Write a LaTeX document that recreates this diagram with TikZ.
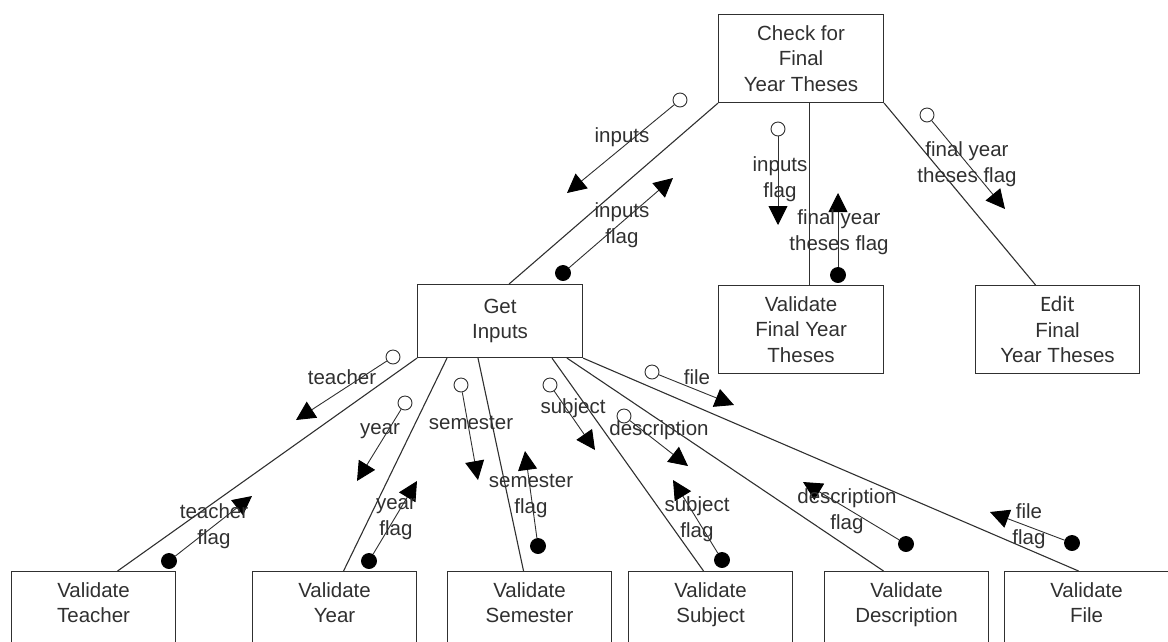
\documentclass[tikz,border=0pt]{standalone}
\usepackage{fontspec}
\setmainfont{Liberation Sans}
\newfontfamily\edfont{Carlito}
\usetikzlibrary{arrows.meta,calc}
\definecolor{ink}{HTML}{303030}
\begin{document}
\begin{tikzpicture}[x=1pt,y=-1pt,
  txt/.style={font=\fontsize{20.5}{25.5}\selectfont, text=ink},
  box/.style={txt, draw=ink, line width=1.1pt, rectangle, inner sep=0pt, align=center, anchor=north west},
  bigbox/.style={box, minimum width=165pt, minimum height=88pt},
  lowbox/.style={box, minimum width=164pt, minimum height=88pt},
  lbl/.style={txt, align=center, inner sep=0pt},
  dc/.style={circle, draw=ink, fill=white, minimum size=14pt, inner sep=0pt, line width=0.9pt},
  cf/.style={circle, draw=black, fill=black, minimum size=15pt, inner sep=0pt, line width=0.9pt},
  flow/.style={draw=ink, line width=0.9pt, -{Triangle[length=19pt,width=19pt,color=black]}},
  conn/.style={draw=ink, line width=1.1pt}]
\useasboundingbox (0,0) rectangle (1168,641);
\clip (0,0) rectangle (1168,641);
% boxes
\node[bigbox] (chk) at (718,14) {Check for\\Final\\Year Theses};
\node[box, minimum width=165pt, minimum height=73pt] (gi) at (417,284) {Get\\Inputs};
\node[bigbox] (vfy) at (718,285) {Validate\\Final Year\\Theses};
\node[box, minimum width=164pt, minimum height=88pt] (edt) at (975,285) {{\edfont\fontsize{22}{25.5}\selectfont Edit}\\Final\\Year Theses};
\node[lowbox] (vt) at (11,571) {Validate\\Teacher\\~};
\node[lowbox] (vy) at (252,571) {Validate\\Year\\~};
\node[lowbox] (vs) at (447,571) {Validate\\Semester\\~};
\node[lowbox] (vsub) at (628,571) {Validate\\Subject\\~};
\node[lowbox] (vd) at (824,571) {Validate\\Description\\~};
\node[lowbox] (vf) at (1004,571) {Validate\\File\\~};
% structure lines
\draw[conn] (chk.south west) -- ([xshift=9pt]gi.north);
\draw[conn] ([xshift=8.5pt]chk.south) -- ([xshift=8.5pt]vfy.north);
\draw[conn] (chk.south east) -- ([xshift=-22pt]edt.north);
\draw[conn] (gi.south west) -- ([xshift=24pt]vt.north);
\draw[conn] ([xshift=30pt]gi.south west) -- ([xshift=9pt]vy.north);
\draw[conn] ([xshift=61pt]gi.south west) -- ([xshift=-6pt]vs.north);
\draw[conn] ([xshift=135pt]gi.south west) -- ([xshift=-7pt]vsub.north);
\draw[conn] ([xshift=150pt]gi.south west) -- ([xshift=-23pt]vd.north);
\draw[conn] (gi.south east) -- ([xshift=-8pt]vf.north);
% couples: top
\node[dc] (c1) at (680,100) {}; \coordinate (t1) at (567,193); \draw[flow] (c1) -- (t1);
\node[lbl] (l1) at (622,137) {inputs};
\node[cf] (c2) at (563,273) {}; \coordinate (t2) at (673,178); \draw[flow] (c2) -- (t2);
\node[lbl] (l2) at (622,225) {inputs\\flag};
\node[dc] (c3) at (778,129) {}; \coordinate (t3) at (778,225); \draw[flow] (c3) -- (t3);
\node[lbl] (l3) at (780,179) {inputs\\flag};
\node[cf] (c4) at (838,275) {}; \coordinate (t4) at (838,193); \draw[flow] (c4) -- (t4);
\node[lbl] (l4) at (839,232) {final year\\theses flag};
\node[dc] (c5) at (927,115) {}; \coordinate (t5) at (1005,209); \draw[flow] (c5) -- (t5);
\node[lbl] (l5) at (967,164) {final year\\theses flag};
% couples: bottom
\node[dc] (c6) at (393,357) {}; \coordinate (t6) at (296,420); \draw[flow] (c6) -- (t6);
\node[lbl] (l6) at (342,377) {teacher};
\node[cf] (c7) at (169,561) {}; \coordinate (t7) at (252,496); \draw[flow] (c7) -- (t7);
\node[lbl] (l7) at (214,526) {teacher\\flag};
\node[dc] (c8) at (405,403) {}; \coordinate (t8) at (357,481); \draw[flow] (c8) -- (t8);
\node[lbl] (l8) at (380,431) {year};
\node[cf] (c9) at (369,561) {}; \coordinate (t9) at (417,481); \draw[flow] (c9) -- (t9);
\node[lbl] (l9) at (396,519) {year\\flag};
\node[dc] (c10) at (461,385) {}; \coordinate (t10) at (478,480); \draw[flow] (c10) -- (t10);
\node[lbl] (l10) at (471,423) {semester};
\node[cf] (c11) at (538,546) {}; \coordinate (t11) at (525,451); \draw[flow] (c11) -- (t11);
\node[lbl] (l11) at (531,496) {semester\\flag};
\node[dc] (c12) at (550,385) {}; \coordinate (t12) at (595,450); \draw[flow] (c12) -- (t12);
\node[lbl] (l12) at (573,408) {subject};
\node[cf] (c13) at (722,560) {}; \coordinate (t13) at (673,480); \draw[flow] (c13) -- (t13);
\node[lbl] (l13) at (697,519) {subject\\flag};
\node[dc] (c14) at (624,416) {}; \coordinate (t14) at (688,466); \draw[flow] (c14) -- (t14);
\node[lbl] (l14) at (659,430) {description};
\node[cf] (c15) at (906,544) {}; \coordinate (t15) at (803,482); \draw[flow] (c15) -- (t15);
\node[lbl] (l15) at (847,511) {description\\flag};
\node[dc] (c16) at (652,372) {}; \coordinate (t16) at (734,405); \draw[flow] (c16) -- (t16);
\node[lbl] (l16) at (697,377) {file};
\node[cf] (c17) at (1072,543) {}; \coordinate (t17) at (990,512); \draw[flow] (c17) -- (t17);
\node[lbl] (l17) at (1029,526) {file\\flag};
\end{tikzpicture}
\end{document}
